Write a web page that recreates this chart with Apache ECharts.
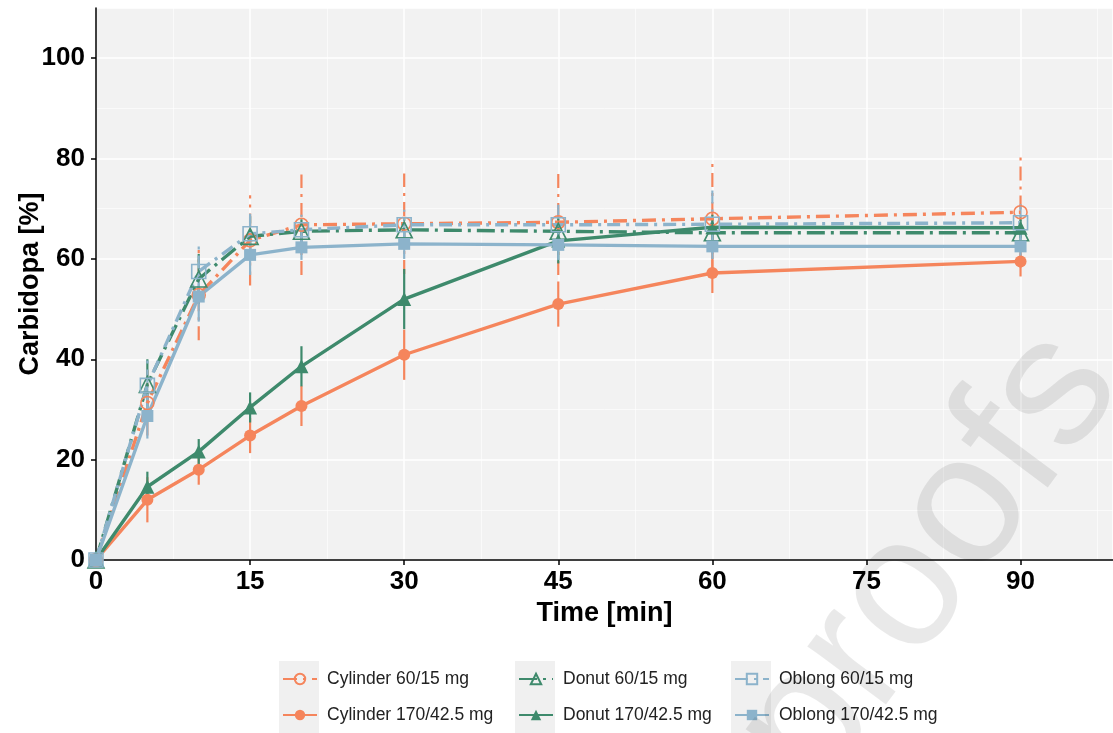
<!DOCTYPE html>
<html>
<head>
<meta charset="utf-8">
<script src="https://cdn.jsdelivr.net/npm/echarts@6/dist/echarts.min.js"></script>
<style>
  html, body { margin: 0; padding: 0; background: #fff; }
  #chart { width: 1113px; height: 733px; }
</style>
</head>
<body>
<div id="chart"></div>
<script>
// sampling times [min]
const times = [0, 5, 10, 15, 20, 30, 45, 60, 90]

// mean release [%] and sd per formulation
const cyl60 = [0, 31.3, 52.8, 63.7, 66.8, 67.0, 67.3, 68.0, 69.3]
const cyl60Sd = [0, 6.5, 9, 9, 10, 10, 10.5, 11, 11]
const don60 = [0, 35.0, 56.0, 64.5, 65.5, 65.8, 65.5, 65.2, 65.2]
const don60Sd = [0, 5, 5, 4, 3, 3, 2.5, 2.5, 2.5]
const obl60 = [0, 34.8, 57.5, 65.0, 65.8, 66.8, 66.8, 66.9, 67.2]
const obl60Sd = [0, 5, 5, 4, 3, 3, 4, 7, 4.5]
const cyl170 = [0, 12.0, 18.0, 24.8, 30.7, 40.9, 51.0, 57.2, 59.5]
const cyl170Sd = [0, 4.5, 3, 3.5, 4, 5, 4.5, 4, 3]
const don170 = [0, 14.6, 21.6, 30.4, 38.6, 52.0, 63.6, 66.3, 66.2]
const don170Sd = [0, 3, 2.5, 3, 4, 6, 4.5, 2.5, 2]
const obl170 = [0, 28.7, 52.5, 60.8, 62.3, 63.0, 62.8, 62.5, 62.5]
const obl170Sd = [0, 4.5, 5, 4, 2.5, 3, 3, 2.5, 2.5]

const xTicks = [0, 15, 30, 45, 60, 75, 90]
const yTicks = [0, 20, 40, 60, 80, 100]

const ORANGE = '#F5855C'
const GREEN = '#3E8A6C'
const BLUE = '#8CB3CB'
const FONT = 'Liberation Sans, Arial, sans-serif'

const pair = (ys) => times.map((t, i) => [t, ys[i]])

const lineSeries = (name, ys, color, symbol, size, hollow, dash) => ({
  type: 'line',
  name: name,
  data: pair(ys),
  symbol: symbol,
  symbolSize: size,
  showSymbol: true,
  z: 3,
  lineStyle: { color: color, width: 3.4, type: dash || 'solid' },
  itemStyle: hollow
    ? { color: 'rgba(0,0,0,0)', borderColor: color, borderWidth: 1.6 }
    : { color: color, borderWidth: 0 },
  emphasis: { disabled: true }
})

const errorBars = (name, ys, sds, color, dash) => ({
  type: 'custom',
  name: name + ' sd',
  data: times.map((t, i) => [t, ys[i], sds[i]]),
  encode: { x: 0, y: 1 },
  z: 2,
  silent: true,
  renderItem: (params, api) => {
    const x = api.value(0), y = api.value(1), s = api.value(2)
    const lo = api.coord([x, y - s])
    const hi = api.coord([x, y + s])
    return {
      type: 'line',
      shape: { x1: lo[0], y1: lo[1], x2: hi[0], y2: hi[1] },
      style: { stroke: color, lineWidth: 2.2, lineDash: dash || null }
    }
  }
})

const dashOrange = [14, 6, 3, 6]
const dashGreen = [18, 6, 3, 6]
const dashBlue = [13, 6, 3, 6]

const names = [
  'Cylinder 60/15 mg', 'Donut 60/15 mg', 'Oblong 60/15 mg',
  'Cylinder 170/42.5 mg', 'Donut 170/42.5 mg', 'Oblong 170/42.5 mg'
]

const legendAt = (name, left, top) => ({
  data: [name],
  left: left,
  top: top,
  itemWidth: 34,
  itemHeight: 13,
  selectedMode: false,
  padding: 0,
  textStyle: { fontFamily: FONT, fontSize: 17.5, color: '#222', padding: [0, 0, 0, 5] }
})

const keyBox = (left) => ({
  type: 'rect',
  left: left,
  top: 661,
  shape: { width: 40, height: 72 },
  style: { fill: '#f0f0f0' },
  z: -1
})

const chart = echarts.init(document.getElementById('chart'))
chart.setOption({
  animation: false,
  backgroundColor: '#fff',
  grid: {
    left: 96, right: 0, top: 8, bottom: 173,
    outerBoundsMode: 'none',
    containLabel: false,
    show: true, backgroundColor: '#f2f2f2', borderWidth: 0
  },
  legend: [
    legendAt(names[0], 282, 670),
    legendAt(names[1], 518, 670),
    legendAt(names[2], 734, 670),
    legendAt(names[3], 282, 706),
    legendAt(names[4], 518, 706),
    legendAt(names[5], 734, 706)
  ],
  graphic: [
    keyBox(279), keyBox(515), keyBox(731),
    {
      type: 'text',
      x: 850, y: 822,
      rotation: 0.93,
      z: 100,
      silent: true,
      style: {
        text: 'proofs',
        font: '185px ' + FONT,
        fill: 'rgba(0,0,0,0.085)',
        textAlign: 'left',
        textVerticalAlign: 'bottom'
      }
    }
  ],
  xAxis: {
    type: 'value',
    min: 0, max: 99, interval: 15,
    name: 'Time [min]',
    nameLocation: 'middle',
    nameGap: 36,
    nameTextStyle: { fontFamily: FONT, fontSize: 27, fontWeight: 'bold', color: '#000' },
    axisLine: { show: true, onZero: false, lineStyle: { color: '#000', width: 1.5 } },
    axisTick: { show: true, length: 5, lineStyle: { color: '#000', width: 1.5 } },
    axisLabel: {
      margin: 9,
      showMaxLabel: false,
      fontFamily: FONT, fontSize: 26, fontWeight: 'bold', color: '#000',
      formatter: (v) => (xTicks.includes(v) ? String(v) : '')
    },
    splitLine: { show: true, lineStyle: { color: '#fff', width: 1.5 } },
    minorTick: { show: false, splitNumber: 2 },
    minorSplitLine: { show: true, lineStyle: { color: 'rgba(255,255,255,0.75)', width: 0.8 } }
  },
  yAxis: {
    type: 'value',
    min: 0, max: 110, interval: 20,
    name: 'Carbidopa [%]',
    nameLocation: 'middle',
    nameGap: 52,
    nameMoveOverlap: false,
    nameTextStyle: { fontFamily: FONT, fontSize: 27, fontWeight: 'bold', color: '#000' },
    axisLine: { show: true, lineStyle: { color: '#000', width: 1.5 } },
    axisTick: { show: true, length: 5, lineStyle: { color: '#000', width: 1.5 } },
    axisLabel: {
      margin: 11,
      showMaxLabel: false,
      fontFamily: FONT, fontSize: 26, fontWeight: 'bold', color: '#000',
      formatter: (v) => (yTicks.includes(v) ? String(v) : '')
    },
    splitLine: { show: true, lineStyle: { color: '#fff', width: 1.5 } },
    minorTick: { show: false, splitNumber: 2 },
    minorSplitLine: { show: true, lineStyle: { color: 'rgba(255,255,255,0.75)', width: 0.8 } }
  },
  series: [
    errorBars(names[0], cyl60, cyl60Sd, ORANGE, dashOrange),
    errorBars(names[1], don60, don60Sd, GREEN, dashGreen),
    errorBars(names[2], obl60, obl60Sd, BLUE, dashBlue),
    errorBars(names[3], cyl170, cyl170Sd, ORANGE),
    errorBars(names[4], don170, don170Sd, GREEN),
    errorBars(names[5], obl170, obl170Sd, BLUE),
    lineSeries(names[3], cyl170, ORANGE, 'circle', 12, false),
    lineSeries(names[4], don170, GREEN, 'triangle', 14, false),
    lineSeries(names[0], cyl60, ORANGE, 'circle', 13, true, dashOrange),
    lineSeries(names[1], don60, GREEN, 'triangle', 16, true, dashGreen),
    lineSeries(names[2], obl60, BLUE, 'rect', 14, true, dashBlue),
    lineSeries(names[5], obl170, BLUE, 'rect', 12, false)
  ]
})
</script>
</body>
</html>
